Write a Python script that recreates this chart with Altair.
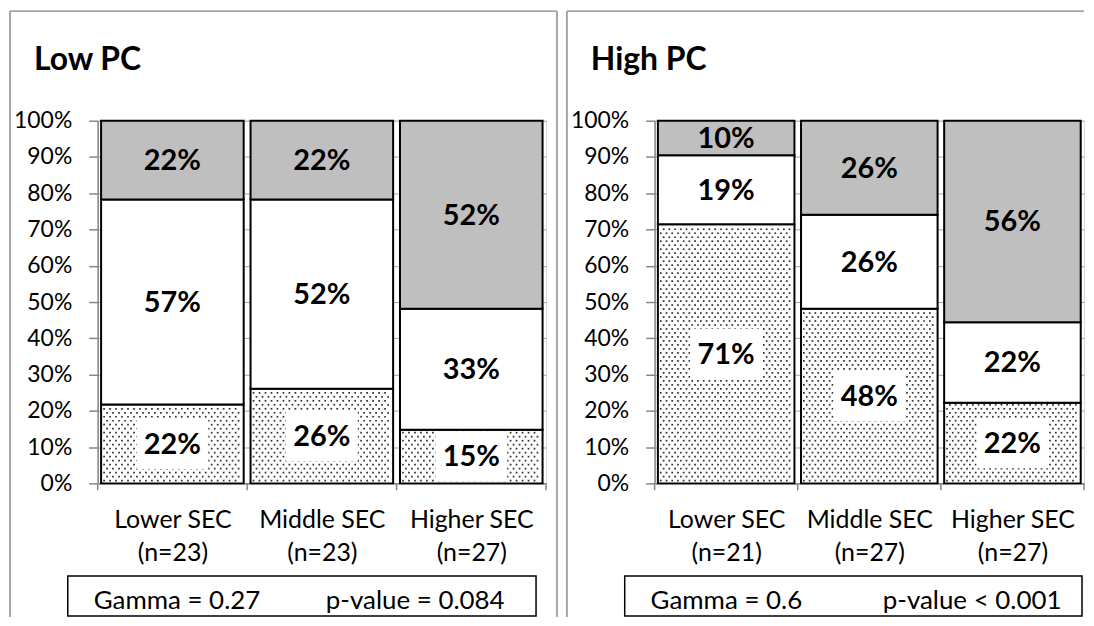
import altair as alt
import pandas as pd

# ---------------- data ----------------
categories = ["Lower SEC", "Middle SEC", "Higher SEC"]
panel_titles = ["Low PC", "High PC"]
n_low = [23, 23, 27]
n_high = [21, 27, 27]
# shares in % : bottom (dotted), middle (white), top (grey)
low_dotted = [21.74, 26.09, 14.81]
low_white = [56.52, 52.17, 33.33]
low_gray = [21.74, 21.74, 51.86]
high_dotted = [71.43, 48.15, 22.22]
high_white = [19.05, 25.93, 22.22]
high_gray = [9.52, 25.92, 55.56]
gamma_texts = ["Gamma = 0.27", "Gamma = 0.6"]
p_texts = ["p-value = 0.084", "p-value < 0.001"]
y_ticks = [0, 10, 20, 30, 40, 50, 60, 70, 80, 90, 100]
x_bounds = [-0.5, 0.5, 1.5, 2.5]

# ---------------- style ----------------
FONT = "Lato"
BW = 0.477          # half bar width in category units
DOT_DX = 0.04       # dot spacing (category units)
DOT_DY = 1.1        # dot spacing (%)
PH = 364            # plot height
AX = "#868686"
FRAME = "#a6a6a6"
SEG_ORDER = ["dotted", "white", "gray"]
SEG_FILL = ["white", "white", "#bfbfbf"]
BOX_PATH = "M-1,-0.7L1,-0.7L1,0.7L-1,0.7Z"
FL, FT, FB = -88, -110, 498   # frame left / top / bottom relative to plot origin


def panel(title, dotted, white, gray, ns, gamma, pval, pw, frame_right, right_side, box_right):
    seg_rows = []
    for i in range(len(categories)):
        base = 0.0
        for seg, v in zip(SEG_ORDER, [dotted[i], white[i], gray[i]]):
            seg_rows.append({"i": i, "seg": seg, "x0": i - BW, "x1": i + BW,
                             "y0": base, "y1": min(base + v, 100.0),
                             "ym": base + v / 2, "lab": f"{int(v + 0.5)}%"})
            base += v
    seg_df = pd.DataFrame(seg_rows)

    dot_rows = []
    for i in range(len(categories)):
        r = 0
        y = DOT_DY * 0.7
        while y < dotted[i] - DOT_DY * 0.4:
            shift = (DOT_DX / 2) if r % 2 else 0.0
            x = i - BW + 0.02 + shift
            while x < i + BW - 0.015:
                dot_rows.append({"dx": x, "dy": y})
                x += DOT_DX
            y += DOT_DY
            r += 1
    dot_df = pd.DataFrame(dot_rows)

    xs = alt.Scale(domain=[-0.5, 2.5], nice=False, zero=False)
    ys = alt.Scale(domain=[0, 100], nice=False, zero=False)

    lab_expr = " : ".join(
        f"datum.value == {i} ? ['{c}', '(n={n})']" for i, (c, n) in enumerate(zip(categories, ns))
    ) + " : ''"

    x_axis = alt.Axis(
        values=[0, 1, 2], labelExpr=lab_expr, ticks=False,
        domainColor=AX, domainWidth=1.5,
        labelFont=FONT, labelFontSize=25, labelColor="black", labelPadding=24,
        labelLineHeight=33, labelOverlap=False, labelFlush=False, labelAngle=0,
        grid=False, title=None,
    )
    y_axis = alt.Axis(
        values=y_ticks, labelExpr="datum.value + '%'",
        tickSize=9, tickColor=AX, tickWidth=1.5, domainColor=AX, domainWidth=1.5,
        labelFont=FONT, labelFontSize=23, labelColor="black", labelPadding=17,
        grid=True, gridColor="#a6a6a6", gridWidth=1, title=None,
    )

    def X(f):
        return alt.X(f, scale=xs, axis=x_axis)

    def Y(f):
        return alt.Y(f, scale=ys, axis=y_axis)

    bars = alt.Chart(seg_df).mark_rect(stroke="black", strokeWidth=2).encode(
        x=X("x0:Q"), x2="x1:Q", y=Y("y0:Q"), y2="y1:Q",
        fill=alt.Fill("seg:N", scale=alt.Scale(domain=SEG_ORDER, range=SEG_FILL), legend=None),
    )
    xticks = alt.Chart(pd.DataFrame({"b": x_bounds})).mark_rule(color=AX, strokeWidth=1.5).encode(
        x=X("b:Q"), y=alt.value(PH), y2=alt.value(PH + 7),
    )
    dots = alt.Chart(dot_df).mark_square(size=3, color="#333333", opacity=1).encode(
        x=X("dx:Q"), y=Y("dy:Q"),
    )
    boxes = alt.Chart(seg_df).transform_filter("datum.seg == 'dotted'").mark_point(
        shape=BOX_PATH, filled=True, fill="white", opacity=1, strokeWidth=0, size=5184
    ).encode(x=X("i:Q"), y=Y("ym:Q"))
    labels = alt.Chart(seg_df).mark_text(
        font=FONT, fontSize=29, fontWeight="bold", color="black", baseline="middle", align="center", dy=1
    ).encode(x=X("i:Q"), y=Y("ym:Q"), text="lab:N")

    one = pd.DataFrame({"t": [title], "g": [gamma], "p": [pval]})
    fr = alt.Chart(one).mark_rule(color=FRAME, strokeWidth=2)
    frame_layers = [
        fr.encode(x=alt.value(FL), x2=alt.value(frame_right), y=alt.value(FT)),
        fr.encode(x=alt.value(FL), y=alt.value(FT), y2=alt.value(FB)),
    ]
    if right_side:
        frame_layers.append(fr.encode(x=alt.value(frame_right), y=alt.value(FT), y2=alt.value(FB)))
    ttl = alt.Chart(one).mark_text(
        font=FONT, fontSize=32, fontWeight="bold", color="black", align="left", baseline="alphabetic"
    ).encode(x=alt.value(-64), y=alt.value(-51), text="t:N")
    stat_box = alt.Chart(one).mark_rect(fill="white", stroke="black", strokeWidth=1.5).encode(
        x=alt.value(-30), x2=alt.value(box_right), y=alt.value(457), y2=alt.value(497)
    )
    g_txt = alt.Chart(one).mark_text(
        font=FONT, fontSize=26, color="black", align="left", baseline="alphabetic"
    ).encode(x=alt.value(-4), y=alt.value(490), text="g:N")
    p_txt = alt.Chart(one).mark_text(
        font=FONT, fontSize=26, color="black", align="left", baseline="alphabetic"
    ).encode(x=alt.value(229), y=alt.value(490), text="p:N")

    return alt.layer(bars, xticks, dots, boxes, labels, *frame_layers, ttl, stat_box, g_txt, p_txt).properties(
        width=pw, height=PH
    )


left = panel(panel_titles[0], low_dotted, low_white, low_gray, n_low,
             gamma_texts[0], p_texts[0], 450, 461, True, 440)
right = panel(panel_titles[1], high_dotted, high_white, high_gray, n_high,
              gamma_texts[1], p_texts[1], 431, 431, False, 429)

chart = alt.hconcat(left, right, spacing=6).properties(
    padding={"left": 0, "top": 0, "right": 0, "bottom": 0}
).configure_view(stroke=None).configure(font=FONT)

chart.save("out.html", embed_options={"renderer": "svg", "actions": False})
